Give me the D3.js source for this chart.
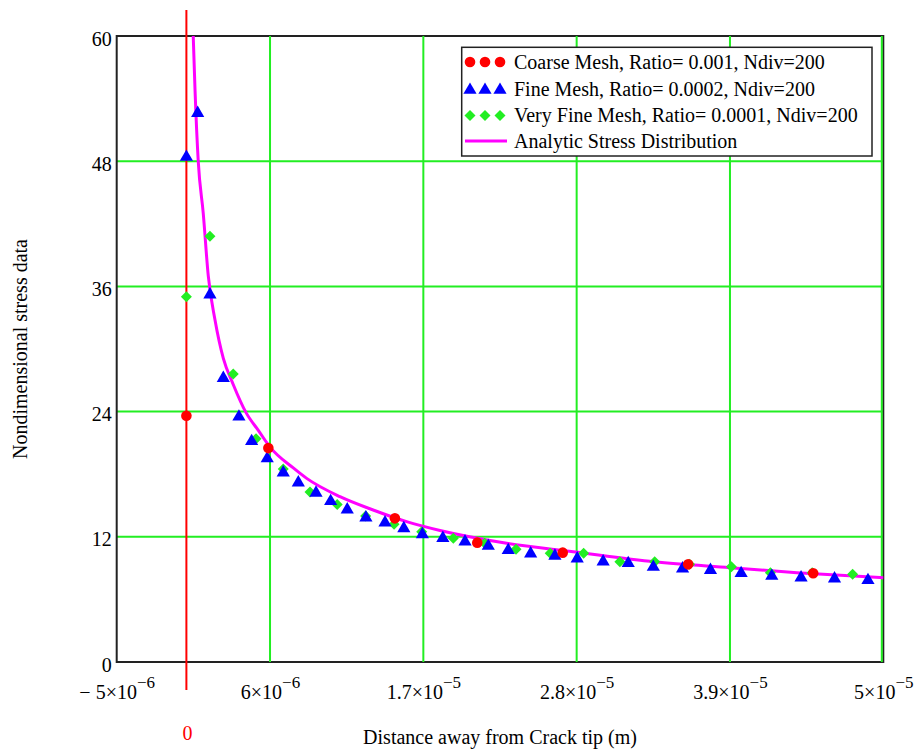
<!DOCTYPE html>
<html>
<head>
<meta charset="utf-8">
<script src="https://cdn.jsdelivr.net/npm/d3@7"></script>
<style>
  html, body { margin: 0; padding: 0; background: #fff; }
  svg text { font-family: "Liberation Serif", "Times New Roman", serif; }
</style>
</head>
<body>
<svg id="chart" width="919" height="751"></svg>
<script>
// Distances from the crack tip (m) and nondimensional stress values
const coarseX = [0, 5.88e-6, 1.496e-5, 2.087e-5, 2.70e-5, 3.60e-5, 4.497e-5];
const coarseY = [23.6, 20.5, 13.77, 11.44, 10.48, 9.36, 8.5];

const fineX = [0, 0.81e-6, 1.69e-6, 2.65e-6, 3.77e-6, 4.68e-6, 5.8e-6, 6.95e-6, 8.03e-6,
  9.3e-6, 1.035e-5, 1.154e-5, 1.288e-5, 1.425e-5, 1.56e-5, 1.693e-5, 1.84e-5, 1.999e-5,
  2.166e-5, 2.309e-5, 2.47e-5, 2.644e-5, 2.804e-5, 2.99e-5, 3.17e-5, 3.35e-5, 3.56e-5,
  3.76e-5, 3.98e-5, 4.20e-5, 4.41e-5, 4.65e-5, 4.89e-5];
const fineY = [48.5, 52.7, 35.3, 27.3, 23.6, 21.25, 19.6, 18.24, 17.28,
  16.3, 15.5, 14.7, 13.93, 13.45, 12.9, 12.33, 11.97, 11.63,
  11.21, 10.8, 10.48, 10.26, 10.0, 9.71, 9.56, 9.2, 9.04,
  8.9, 8.6, 8.34, 8.18, 8.08, 7.93];

const veryFineX = [0, 1.69e-6, 3.36e-6, 5.0e-6, 6.95e-6, 8.87e-6, 1.082e-5, 1.286e-5,
  1.49e-5, 1.688e-5, 1.915e-5, 2.14e-5, 2.365e-5, 2.61e-5, 2.85e-5, 3.11e-5, 3.36e-5,
  3.61e-5, 3.91e-5, 4.19e-5, 4.49e-5, 4.78e-5];
const veryFineY = [35.0, 40.8, 27.6, 21.4, 18.5, 16.3, 15.1, 14.0,
  13.2, 12.49, 11.86, 11.37, 10.8, 10.42, 10.42, 9.61, 9.6,
  9.36, 9.13, 8.56, 8.56, 8.4];

const analyticX = [0.49e-6, 0.62e-6, 0.85e-6, 1.21e-6, 1.57e-6, 2.05e-6, 2.65e-6, 3.36e-6,
  4.28e-6, 5.16e-6, 6.0e-6, 7.67e-6, 8.63e-6, 1.102e-5, 1.34e-5, 1.58e-5, 1.82e-5,
  2.298e-5, 2.775e-5, 3.36e-5, 3.90e-5, 4.38e-5, 5.0e-5];
const analyticY = [60, 54.8, 48.0, 43.0, 37.0, 32.8, 29.1, 26.6,
  23.9, 22.2, 20.6, 18.6, 17.6, 15.85, 14.57, 13.45, 12.6,
  11.38, 10.57, 9.6, 9.04, 8.56, 8.08];

// Axis ticks and their labels (mantissa, exponent)
const xTicks = [-5e-6, 6e-6, 1.7e-5, 2.8e-5, 3.9e-5, 5e-5];
const xTickMantissa = ["\u2212 5\u00d710", "6\u00d710", "1.7\u00d710", "2.8\u00d710", "3.9\u00d710", "5\u00d710"];
const xTickExponent = ["\u22126", "\u22126", "\u22125", "\u22125", "\u22125", "\u22125"];
const yTicks = [0, 12, 24, 36, 48, 60];

const legendLabels = [
  "Coarse Mesh, Ratio= 0.001, Ndiv=200",
  "Fine Mesh, Ratio= 0.0002, Ndiv=200",
  "Very Fine Mesh, Ratio= 0.0001, Ndiv=200",
  "Analytic Stress Distribution"
];

(function draw() {
  const svg = d3.select("#chart");
  const pLeft = 116.7, pRight = 883.3, pTop = 36, pBottom = 662;

  const x = d3.scaleLinear().domain([-5e-6, 5e-5]).range([pLeft, pRight]);
  const y = d3.scaleLinear().domain([0, 60]).range([pBottom, pTop]);

  svg.append("rect").attr("width", 919).attr("height", 751).attr("fill", "#fff");

  // Horizontal grid lines
  svg.append("g").selectAll("line").data(yTicks.filter(v => v > 0 && v < 60)).join("line")
    .attr("x1", pLeft).attr("x2", pRight)
    .attr("y1", d => y(d)).attr("y2", d => y(d))
    .attr("stroke", "#22ee22").attr("stroke-width", 2);

  // Plot frame
  svg.append("rect")
    .attr("x", pLeft).attr("y", pTop)
    .attr("width", pRight - pLeft).attr("height", pBottom - pTop)
    .attr("fill", "none").attr("stroke", "#222").attr("stroke-width", 2);

  // Vertical grid lines
  svg.append("g").selectAll("line").data(xTicks.filter(v => v > -5e-6)).join("line")
    .attr("x1", d => d === 5e-5 ? x(d) - 1.5 : x(d)).attr("x2", d => d === 5e-5 ? x(d) - 1.5 : x(d))
    .attr("y1", pTop).attr("y2", pBottom)
    .attr("stroke", "#22ee22").attr("stroke-width", 2);

  // Axes
  const xAxis = svg.append("g")
    .attr("transform", `translate(0,${pBottom})`)
    .call(d3.axisBottom(x).tickValues(xTicks).tickSize(0));
  xAxis.select(".domain").remove();
  xAxis.selectAll(".tick text").each(function(d, i) {
    const t = d3.select(this);
    t.text(null).attr("y", 37).attr("dy", 0)
      .attr("fill", "#000").attr("font-size", 20)
      .attr("font-family", "'Liberation Serif', 'Times New Roman', serif");
    t.append("tspan").text(xTickMantissa[i]);
    t.append("tspan").attr("dy", -11).attr("font-size", 17).text(xTickExponent[i]);
  });

  const yAxis = svg.append("g")
    .attr("transform", `translate(${pLeft},0)`)
    .call(d3.axisLeft(y).tickValues(yTicks).tickSize(0).tickPadding(5));
  yAxis.select(".domain").remove();
  yAxis.selectAll(".tick text")
    .attr("fill", "#000").attr("font-size", 20).attr("dy", "0.45em")
    .attr("font-family", "'Liberation Serif', 'Times New Roman', serif");

  // Crack tip marker
  svg.append("line")
    .attr("x1", x(0)).attr("x2", x(0)).attr("y1", 10).attr("y2", 690)
    .attr("stroke", "#ff0000").attr("stroke-width", 2);
  svg.append("text")
    .attr("x", x(0) + 1).attr("y", 740).attr("text-anchor", "middle")
    .attr("font-size", 20).attr("fill", "#ff0000").text("0");

  // Analytic curve
  const analytic = analyticX.map((v, i) => [v, analyticY[i]]);
  svg.append("path")
    .datum(analytic)
    .attr("d", d3.line().x(d => x(d[0])).y(d => y(d[1])).curve(d3.curveMonotoneX))
    .attr("fill", "none").attr("stroke", "#ff00ff").attr("stroke-width", 3);

  // Marker shapes
  const triPath = s => `M0,${-s * 0.55} L${s * 0.55},${s * 0.4} L${-s * 0.55},${s * 0.4} Z`;
  const diamondPath = s => `M0,${-s / 2} L${s / 2},0 L0,${s / 2} L${-s / 2},0 Z`;

  svg.append("g").selectAll("path").data(veryFineX.map((v, i) => [v, veryFineY[i]])).join("path")
    .attr("transform", d => `translate(${x(d[0])},${y(d[1])})`)
    .attr("d", diamondPath(11)).attr("fill", "#22ee22");
  svg.append("g").selectAll("path").data(fineX.map((v, i) => [v, fineY[i]])).join("path")
    .attr("transform", d => `translate(${x(d[0])},${y(d[1])})`)
    .attr("d", triPath(12)).attr("fill", "#0000ff");
  svg.append("g").selectAll("circle").data(coarseX.map((v, i) => [v, coarseY[i]])).join("circle")
    .attr("cx", d => x(d[0])).attr("cy", d => y(d[1])).attr("r", 5.3)
    .attr("fill", "#ff0000");

  // Legend
  const legend = svg.append("g");
  legend.append("rect")
    .attr("x", 461.7).attr("y", 47.3).attr("width", 410.3).attr("height", 108.7)
    .attr("fill", "#fff").attr("stroke", "#222").attr("stroke-width", 1.5);
  const rowY = [62, 89, 115.5, 141];
  const mx = [470, 485, 500];
  mx.forEach(cx => {
    legend.append("circle").attr("cx", cx).attr("cy", rowY[0]).attr("r", 5.3).attr("fill", "#ff0000");
    legend.append("path").attr("transform", `translate(${cx},${rowY[1]})`).attr("d", triPath(12)).attr("fill", "#0000ff");
    legend.append("path").attr("transform", `translate(${cx},${rowY[2]})`).attr("d", diamondPath(11)).attr("fill", "#22ee22");
  });
  legend.append("line").attr("x1", 465).attr("x2", 507).attr("y1", rowY[3]).attr("y2", rowY[3])
    .attr("stroke", "#ff00ff").attr("stroke-width", 3);
  legend.selectAll("text").data(legendLabels).join("text")
    .attr("x", 514).attr("y", (d, i) => rowY[i] + 6.5)
    .attr("font-size", 20).attr("fill", "#000").text(d => d);

  // Axis titles
  svg.append("text")
    .attr("x", 500).attr("y", 744).attr("text-anchor", "middle")
    .attr("font-size", 20).attr("fill", "#000").text("Distance away from Crack tip (m)");
  svg.append("text")
    .attr("transform", `translate(27,${(pTop + pBottom) / 2}) rotate(-90)`)
    .attr("text-anchor", "middle")
    .attr("font-size", 20).attr("fill", "#000").text("Nondimensional stress data");
})();
</script>
</body>
</html>
